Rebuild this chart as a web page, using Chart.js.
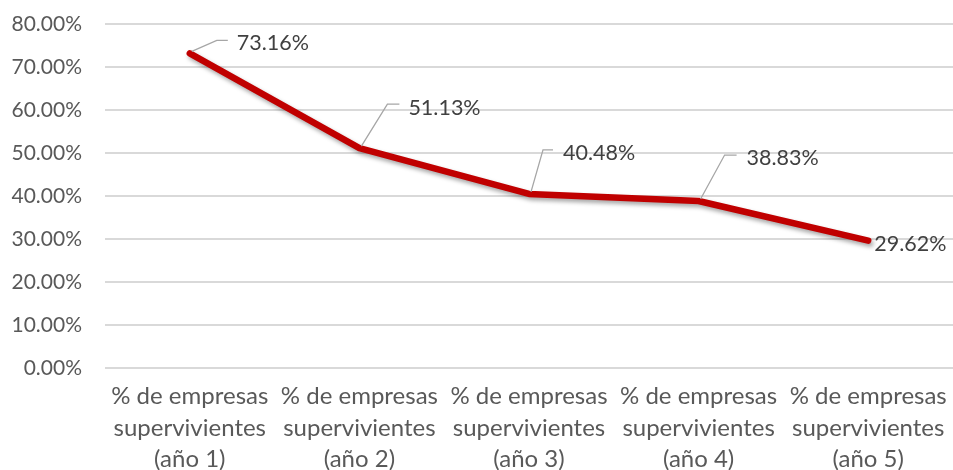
<!DOCTYPE html>
<html>
<head>
<meta charset="utf-8">
<script src="https://cdn.jsdelivr.net/npm/chart.js@4/dist/chart.umd.min.js"></script>
<style>
  html, body { margin: 0; padding: 0; background: #ffffff; }
  #wrap { width: 953px; height: 470px; position: relative; }
</style>
</head>
<body>
<div id="wrap"><canvas id="c" width="953" height="470"></canvas></div>
<script>
const categories = [
  ["% de empresas", "supervivientes", "(año 1)"],
  ["% de empresas", "supervivientes", "(año 2)"],
  ["% de empresas", "supervivientes", "(año 3)"],
  ["% de empresas", "supervivientes", "(año 4)"],
  ["% de empresas", "supervivientes", "(año 5)"]
];
const survivalRate = [0.7316, 0.5113, 0.4048, 0.3883, 0.2962];
const yTicks = [0, 0.1, 0.2, 0.3, 0.4, 0.5, 0.6, 0.7, 0.8];

// label placement styles (pixel offsets from each point)
const labelStyle = [
  { elbow: [27, -13], end: [38, -13], text: [47, -10] },
  { elbow: [28, -44], end: [40, -44], text: [49, -40] },
  { elbow: [14, -44], end: [24, -44], text: [34, -41] },
  { elbow: [26, -46], end: [38, -46], text: [48, -43] },
  { elbow: null, end: null, text: [6, 3] }
];

const FONT = "Lato, 'Open Sans', sans-serif";
const fmt = v => (v * 100).toFixed(2) + "%";

const shadowPlugin = {
  id: 'lineShadow',
  beforeDatasetDraw(chart) {
    const ctx = chart.ctx;
    ctx.save();
    ctx.shadowColor = 'rgba(0,0,0,0.35)';
    ctx.shadowBlur = 4;
    ctx.shadowOffsetX = 2;
    ctx.shadowOffsetY = 3;
  },
  afterDatasetDraw(chart) {
    chart.ctx.restore();
  }
};

const labelPlugin = {
  id: 'leaderLabels',
  afterDatasetsDraw(chart) {
    const ctx = chart.ctx;
    const meta = chart.getDatasetMeta(0);
    ctx.save();
    ctx.font = "21.5px " + FONT;
    ctx.textBaseline = 'middle';
    ctx.textAlign = 'left';
    meta.data.forEach((pt, i) => {
      const s = labelStyle[i];
      const x = pt.x, y = pt.y;
      if (s.elbow) {
        ctx.beginPath();
        ctx.strokeStyle = '#a6a6a6';
        ctx.lineWidth = 1.3;
        ctx.moveTo(x + 2, y - 2);
        ctx.lineTo(x + s.elbow[0], y + s.elbow[1]);
        ctx.lineTo(x + s.end[0], y + s.end[1]);
        ctx.stroke();
      }
      ctx.fillStyle = '#404040';
      ctx.fillText(fmt(survivalRate[i]), x + s.text[0], y + s.text[1]);
    });
    ctx.restore();
  }
};

new Chart(document.getElementById('c'), {
  type: 'line',
  data: {
    labels: categories,
    datasets: [{
      data: survivalRate,
      borderColor: '#C00000',
      borderWidth: 6.5,
      borderCapStyle: 'round',
      borderJoinStyle: 'round',
      pointRadius: 0,
      tension: 0,
      fill: false
    }]
  },
  options: {
    responsive: false,
    animation: false,
    devicePixelRatio: 1,
    layout: { padding: { top: 24, right: 0, bottom: 0, left: 0 } },
    plugins: { legend: { display: false }, tooltip: { enabled: false } },
    scales: {
      x: {
        offset: true,
        grid: { display: false, drawTicks: false },
        border: { display: false },
        ticks: {
          color: '#595959',
          font: { family: FONT, size: 24, lineHeight: 1.31 },
          padding: 13,
          maxRotation: 0,
          autoSkip: false
        },
        afterFit(scale) {
          scale.height = 102;
          scale.paddingLeft = 0; scale.paddingRight = 0;
          scale.paddingTop = 0; scale.paddingBottom = 0;
        }
      },
      y: {
        min: 0,
        max: 0.8,
        afterBuildTicks(scale) { scale.ticks = yTicks.map(v => ({ value: v })); },
        grid: { color: '#d9d9d9', lineWidth: 2, drawTicks: false },
        border: { display: false },
        ticks: {
          color: '#595959',
          font: { family: FONT, size: 21 },
          padding: 23,
          callback: v => fmt(v)
        },
        afterFit(scale) {
          scale.width = 105;
          scale.paddingTop = 0; scale.paddingBottom = 0;
          scale.paddingLeft = 0; scale.paddingRight = 0;
        }
      }
    }
  },
  plugins: [shadowPlugin, labelPlugin]
});
</script>
</body>
</html>
